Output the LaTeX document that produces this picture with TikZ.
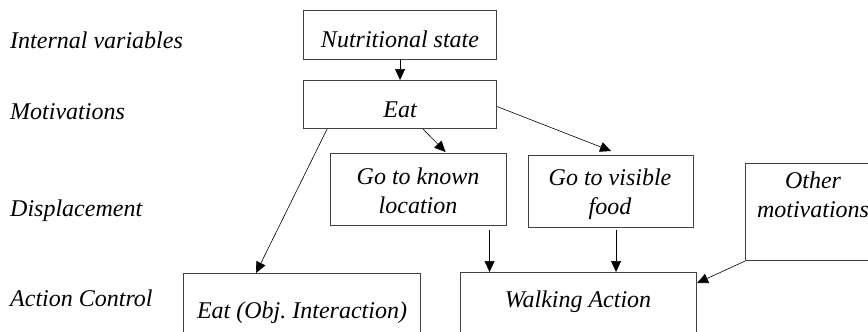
\documentclass[tikz,border=0pt]{standalone}
\usepackage{fontspec}
\setmainfont{Liberation Serif}
\usetikzlibrary{arrows.meta}

\tikzset{
	box/.style={draw=black!75, line width=1.1pt, anchor=north west, inner sep=0pt},
	lbl/.style={font=\itshape\fontsize{24}{29}\selectfont, inner sep=0pt, anchor=base},
	arr/.style={-{Triangle[length=11pt,width=10pt]}, line width=0.6pt},
}

\begin{document}
\frenchspacing
\begin{tikzpicture}[x=1pt,y=-1pt]
	\useasboundingbox (0,0) rectangle (868,332);
	\clip (0,0) rectangle (868,332);

	% levels
	\node[lbl,anchor=base west] (lvint) at (10,48) {Internal variables};
	\node[lbl,anchor=base west] (lvmot) at (10,119) {Motivations};
	\node[lbl,anchor=base west] (lvdis) at (10,216) {Displacement};
	\node[lbl,anchor=base west] (lvact) at (10,306) {Action Control};

	% boxes
	\node[box,minimum width=193pt,minimum height=49pt] (nutri) at (303,10) {};
	\node[box,minimum width=193pt,minimum height=48pt] (eat) at (303,80) {};
	\node[box,minimum width=176pt,minimum height=72pt] (known) at (330,153) {};
	\node[box,minimum width=165pt,minimum height=72pt] (visible) at (528,155) {};
	\node[box,minimum width=140pt,minimum height=97pt] (other) at (745,163) {};
	\node[box,minimum width=237pt,minimum height=80pt] (objeat) at (183,273) {};
	\node[box,minimum width=236pt,minimum height=80pt] (walk) at (460,272) {};

	\node[lbl] (nutritxt) at (400,47) {Nutritional state};
	\node[lbl] (eattxt) at (400,117) {Eat};
	\node[lbl,align=center] (knowntxt) at (418,213) {Go to known\\location};
	\node[lbl,align=center] (visibletxt) at (610,214) {Go to visible\\food};
	\node[lbl,align=center] (othertxt) at (813,217) {Other\\motivations};
	\node[lbl] (objeattxt) at (302,318) {Eat (Obj. Interaction)};
	\node[lbl] (walktxt) at (578,307) {Walking Action};

	% connectors
	\coordinate (knownout) at ([xshift=71pt,yshift=-4pt]known.south);
	\coordinate (visibleout) at ([xshift=5pt,yshift=-2pt]visible.south);
	\draw[arr] (nutri.south) -- (eat.north);
	\draw[arr] ([xshift=23pt]eat.south) -- ([xshift=27pt,yshift=1pt]known.north);
	\draw[arr] ([yshift=-2pt]eat.east) -- ([yshift=4pt]visible.north);
	\draw[arr] ([xshift=-73pt]eat.south) -- ([xshift=-46pt]objeat.north);
	\draw[arr] (knownout) -- (knownout |- walk.north);
	\draw[arr] (visibleout) -- (visibleout |- walk.north);
	\draw[arr] (other.south west) -- ([yshift=-11pt]walk.north east);
\end{tikzpicture}
\end{document}
